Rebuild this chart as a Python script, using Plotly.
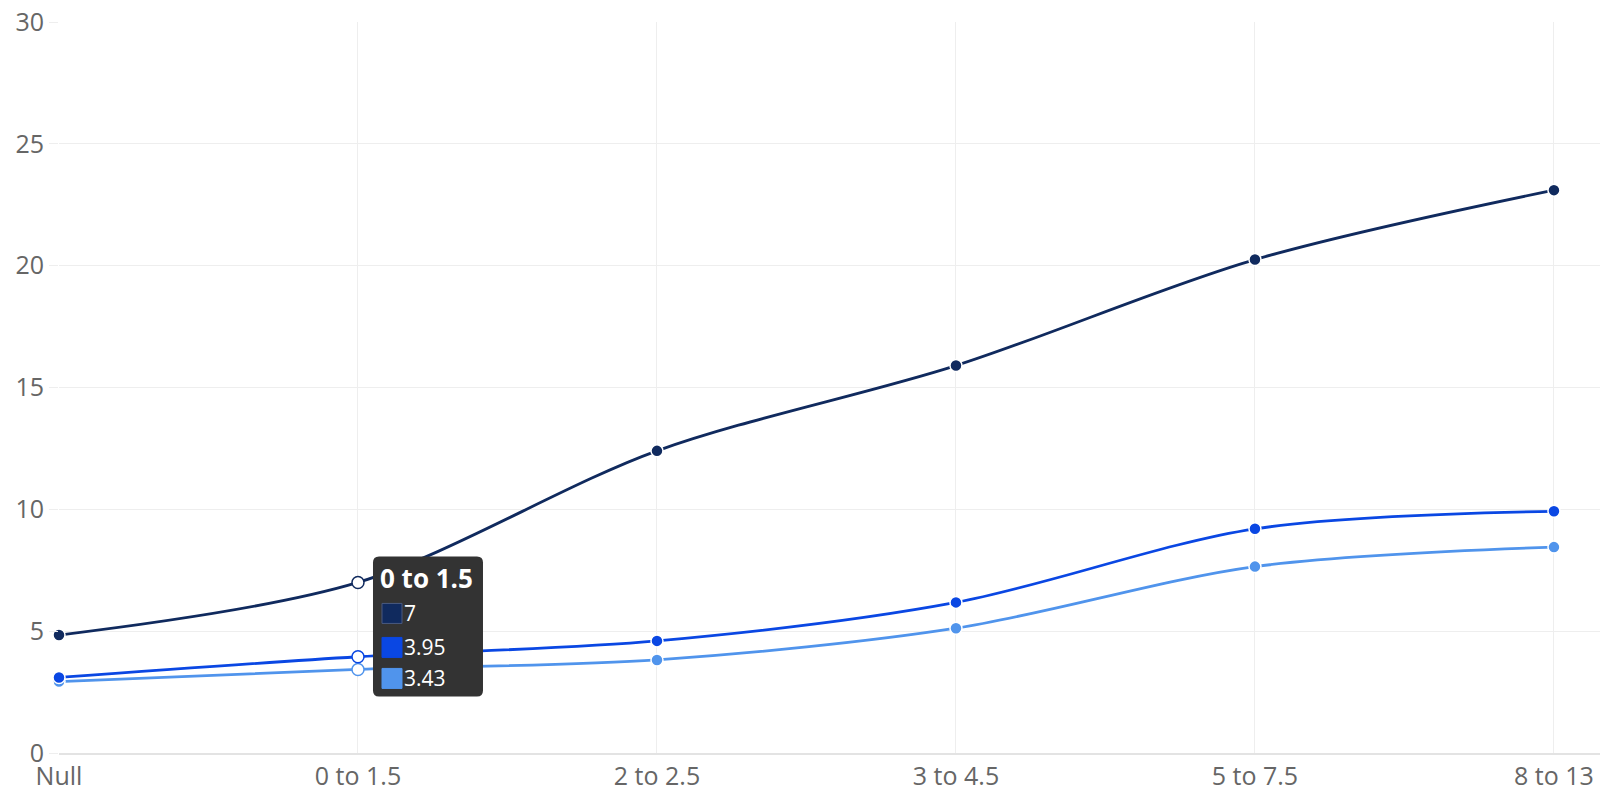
import plotly.graph_objects as go

categories = ["Null", "0 to 1.5", "2 to 2.5", "3 to 4.5", "5 to 7.5", "8 to 13"]
series_dark = [4.84, 7.0, 12.4, 15.9, 20.25, 23.1]
series_mid = [3.1, 3.95, 4.6, 6.18, 9.2, 9.92]
series_light = [2.93, 3.43, 3.82, 5.12, 7.65, 8.45]
colors = ["#102a5e", "#0a47e3", "#5094ec"]
hover_index = 1

fig = go.Figure()
for vals, col in [(series_light, colors[2]), (series_mid, colors[1]), (series_dark, colors[0])]:
    fills = ["#ffffff" if i == hover_index else col for i in range(len(vals))]
    lcols = [col if i == hover_index else "#ffffff" for i in range(len(vals))]
    fig.add_trace(go.Scatter(
        x=list(range(len(categories))), y=vals, mode="lines+markers",
        line=dict(color=col, width=2.8, shape="spline", smoothing=0.9),
        marker=dict(size=12, color=fills, line=dict(color=lcols, width=1.5)),
        hoverinfo="skip", showlegend=False, cliponaxis=False,
    ))

# Tooltip anchored to the hovered point of the first series
ax, ay = hover_index, series_dark[hover_index]
x0, x1, y0, y1, r = 15, 125, -114, 26, 6
path = (f"M{x0+r},{y1} L{x1-r},{y1} Q{x1},{y1} {x1},{y1-r} L{x1},{y0+r} Q{x1},{y0} {x1-r},{y0} "
        f"L{x0+r},{y0} Q{x0},{y0} {x0},{y0+r} L{x0},{y1-r} Q{x0},{y1} {x0+r},{y1} Z")
fig.add_shape(type="path", xref="x", yref="y", xsizemode="pixel", ysizemode="pixel",
              xanchor=ax, yanchor=ay, path=path, fillcolor="#333333",
              line=dict(width=0), layer="above")
fig.add_annotation(x=ax, y=ay, xref="x", yref="y", xanchor="left", yanchor="middle",
                   xshift=20, yshift=4, showarrow=False,
                   text="<b>" + categories[hover_index] + "</b>",
                   font=dict(family="Open Sans", size=26, color="#ffffff"))
rows = [(series_dark[hover_index], colors[0]), (series_mid[hover_index], colors[1]),
        (series_light[hover_index], colors[2])]
row_offsets = [-31, -65, -96]
for (v, col), off in zip(rows, row_offsets):
    fig.add_shape(type="rect", xref="x", yref="y", xsizemode="pixel", ysizemode="pixel",
                  xanchor=ax, yanchor=ay, x0=24, x1=44, y0=off - 10, y1=off + 10,
                  fillcolor=col, line=dict(color="#4a5a80" if col == colors[0] else col, width=1),
                  layer="above")
    fig.add_annotation(x=ax, y=ay, xref="x", yref="y", xanchor="left", yanchor="middle",
                       xshift=44, yshift=off, showarrow=False, text=f"{v:g}",
                       font=dict(family="Open Sans", size=21, color="#ffffff"))

fig.update_layout(
    width=1600, height=800, plot_bgcolor="#ffffff", paper_bgcolor="#ffffff",
    margin=dict(l=59, r=0, t=22, b=47),
    font=dict(family="Open Sans", color="#666666", size=25),
    hovermode=False,
)
fig.update_xaxes(
    tickmode="array", tickvals=list(range(len(categories))), ticktext=categories,
    range=[0, 5.154], showgrid=True, gridcolor="#eeeeee", gridwidth=1,
    showline=True, linecolor="#e3e3e3", linewidth=2, zeroline=False,
    ticks="", ticklabelstandoff=0,
    tickfont=dict(family="Open Sans", size=25, color="#666666"),
)
fig.update_yaxes(
    range=[0, 30], dtick=5, showgrid=True, gridcolor="#eeeeee", gridwidth=1,
    zeroline=False, showline=False, ticks="outside", ticklen=9, tickcolor="#eeeeee",
    tickfont=dict(family="Open Sans", size=25, color="#666666"),
)
fig.write_html("out.html")
